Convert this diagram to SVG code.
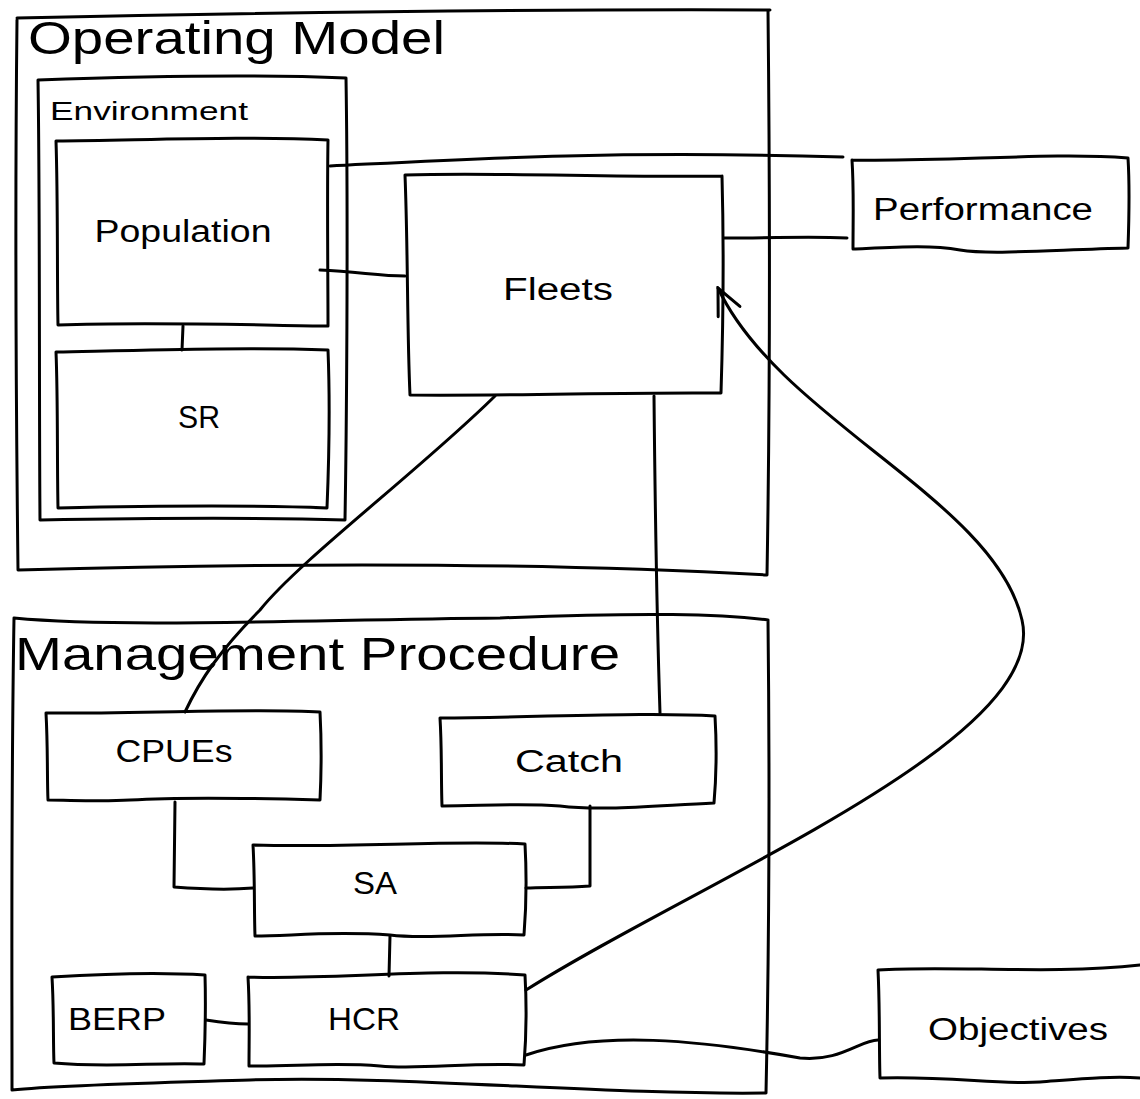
<svg xmlns="http://www.w3.org/2000/svg" width="1140" height="1099" viewBox="0 0 1140 1099">
<style>
.s{fill:none;stroke:#000;stroke-width:3;stroke-linecap:round;stroke-linejoin:round}
.t{font-family:"Liberation Sans",Arial,sans-serif;fill:#000}
.n{font-size:31px;text-anchor:middle}
.h{font-size:46px}
</style>
<defs>
<marker id="arr" viewBox="0 0 32 32" refX="30" refY="16" markerWidth="32" markerHeight="32" orient="auto" markerUnits="userSpaceOnUse">
<path d="M4,4 L30,16 L4,28" fill="none" stroke="#000" stroke-width="3" stroke-linecap="round"/>
</marker>
</defs>
<g id="operating-model">
<path class="s" d="M17,18 C200,14 500,9 770,10 M768,10 C770,200 770,400 767,575 M767,575 C500,560 200,565 18,570 M17,20 C15,200 16,400 18,570"/>
<text class="t h" x="28" y="54" textLength="417" lengthAdjust="spacingAndGlyphs">Operating Model</text>
</g>
<g id="environment">
<path class="s" d="M38,80 C150,76 250,74 346,78 M346,78 C348,200 347,400 345,520 M345,520 C250,517 150,518 40,520 M38,80 C40,200 39,400 40,520"/>
<text class="t" x="50" y="120" font-size="26" textLength="198" lengthAdjust="spacingAndGlyphs">Environment</text>
</g>
<g id="population">
<path class="s" d="M56,141 C150,140 250,136 328,140 M328,140 C327,200 328,280 328,326 M328,326 C250,325 150,322 58,325 M56,141 C58,200 57,280 58,325"/>
<text class="t n" x="183" y="242" textLength="177" lengthAdjust="spacingAndGlyphs">Population</text>
</g>
<g id="sr">
<path class="s" d="M56,352 C150,350 250,347 328,350 M328,350 C330,400 329,460 327,508 M327,508 C250,505 150,506 58,508 M56,352 C58,400 57,460 58,508"/>
<text class="t n" x="199" y="428" textLength="42" lengthAdjust="spacingAndGlyphs">SR</text>
</g>
<g id="fleets">
<path class="s" d="M405,175 C500,172 620,178 722,176 M722,176 C724,250 723,330 721,393 M721,393 C620,392 520,396 410,395 M405,175 C408,250 407,330 410,395"/>
<text class="t n" x="558" y="300" textLength="110" lengthAdjust="spacingAndGlyphs">Fleets</text>
</g>
<g id="performance">
<path class="s" d="M852,160 C950,162 1050,152 1128,158 M1128,158 C1130,190 1129,220 1128,248 M1128,248 C1050,250 990,255 960,250 C930,245 900,247 853,249 M852,160 C854,190 853,220 853,249"/>
<text class="t n" x="983" y="220" textLength="220" lengthAdjust="spacingAndGlyphs">Performance</text>
</g>
<g id="management-procedure">
<path class="s" d="M14,618 C120,628 300,620 500,618 C650,612 720,614 768,620 M768,620 C770,800 769,950 766,1093 M766,1093 C600,1095 400,1075 250,1080 C150,1083 60,1085 12,1090 M14,618 C11,800 12,950 12,1090"/>
<text class="t h" x="15" y="670" textLength="605" lengthAdjust="spacingAndGlyphs">Management Procedure</text>
</g>
<g id="cpues">
<path class="s" d="M46,713 C150,714 250,708 320,712 M320,712 C322,750 321,780 320,800 M320,800 C250,798 180,797 130,800 C100,802 70,800 48,800 M46,713 C48,750 47,780 48,800"/>
<text class="t n" x="174" y="762" textLength="117" lengthAdjust="spacingAndGlyphs">CPUEs</text>
</g>
<g id="catch">
<path class="s" d="M440,718 C550,717 650,712 715,716 M715,716 C717,750 716,780 714,803 M714,803 C650,806 600,811 560,806 C520,803 480,806 442,806 M440,718 C442,750 441,780 442,806"/>
<text class="t n" x="569" y="772" textLength="108" lengthAdjust="spacingAndGlyphs">Catch</text>
</g>
<g id="sa">
<path class="s" d="M253,845 C350,848 450,840 525,844 M525,844 C527,880 526,910 524,935 M524,935 C480,932 430,940 390,935 C330,931 290,936 255,936 M253,845 C255,880 254,910 255,936"/>
<text class="t n" x="375" y="894" textLength="44" lengthAdjust="spacingAndGlyphs">SA</text>
</g>
<g id="berp">
<path class="s" d="M52,977 C100,974 160,972 205,975 M205,975 C206,1010 205,1040 204,1064 M204,1064 C160,1062 110,1068 54,1063 M52,977 C54,1010 53,1040 54,1063"/>
<text class="t n" x="117" y="1030" textLength="98" lengthAdjust="spacingAndGlyphs">BERP</text>
</g>
<g id="hcr">
<path class="s" d="M248,977 C330,980 430,968 525,975 M525,975 C527,1010 526,1040 524,1065 M524,1065 C470,1062 420,1070 380,1066 C330,1062 290,1067 249,1066 M248,977 C250,1010 249,1040 249,1066"/>
<text class="t n" x="364" y="1030" textLength="72" lengthAdjust="spacingAndGlyphs">HCR</text>
</g>
<g id="objectives">
<path class="s" d="M878,970 C950,965 1050,975 1140,965 M878,970 C880,1010 879,1050 880,1078 M880,1078 C950,1076 1000,1085 1040,1082 C1080,1079 1110,1076 1140,1078"/>
<text class="t n" x="1018" y="1040" textLength="180" lengthAdjust="spacingAndGlyphs">Objectives</text>
</g>
<g id="connectors">
<path class="s" d="M330,166 C450,160 600,150 843,157"/>
<path class="s" d="M724,238 C780,238 810,236 847,238"/>
<path class="s" d="M320,270 C360,272 380,276 405,276"/>
<path class="s" d="M183,326 L182,350"/>
<path class="s" d="M495,396 C420,470 300,560 260,610 C220,650 200,680 185,712"/>
<path class="s" d="M654,396 C655,500 657,620 660,713"/>
<path class="s" d="M175,802 L174,887 C200,889 230,890 253,888"/>
<path class="s" d="M590,806 L590,886 C565,888 545,887 526,888"/>
<path class="s" d="M390,936 L389,976"/>
<path class="s" d="M206,1020 C225,1023 235,1024 248,1024"/>
<path class="s" d="M526,1055 C600,1030 700,1040 800,1058 C840,1062 860,1040 878,1040"/>
<path class="s" marker-end="url(#arr)" d="M526,990 C700,880 1050,740 1022,620 C995,500 780,420 718,288"/>
</g>
</svg>
